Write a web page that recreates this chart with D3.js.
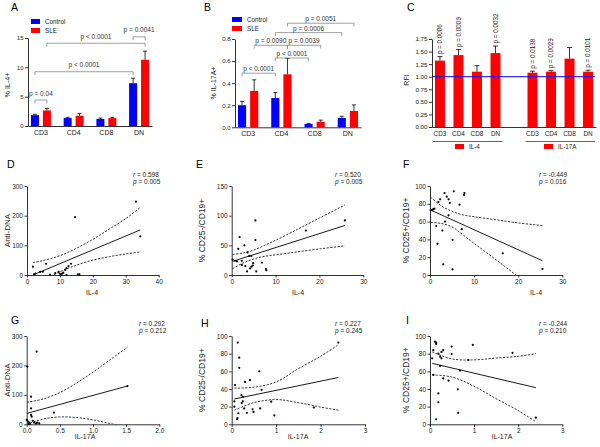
<!DOCTYPE html>
<html>
<head>
<meta charset="utf-8">
<script src="https://cdn.jsdelivr.net/npm/d3@7"></script>
<style>
  body { margin: 0; background: #fff; }
</style>
</head>
<body>
<script>
// DATA
const cells = ["CD3", "CD4", "CD8", "DN"];
const groups = ["Control", "SLE"];

// A: % IL-4+
const aControl = [1.85, 1.35, 1.2, 7.3];
const aControlErr = [0.15, 0.12, 0.15, 0.85];
const aSle = [2.65, 1.75, 1.35, 11.3];
const aSleErr = [0.35, 0.4, 0.12, 1.45];
const aTicks = [0, 5, 10, 15];
// [cell, group] -> [cell, group], bracket level (y units), label
const aBrackets = [
  [[0, 0], [0, 1], 4.43, "p = 0.04"],
  [[0, 0], [3, 0], 9.25, "p < 0.0001"],
  [[0, 1], [3, 1], 14.1, "p < 0.0001"],
  [[3, 0], [3, 1], 15.2, "p = 0.0041"]
];

// B: % IL-17A+
const bControl = [0.2, 0.265, 0.03, 0.085];
const bControlErr = [0.035, 0.05, 0.004, 0.015];
const bSle = [0.33, 0.48, 0.05, 0.148];
const bSleErr = [0.1, 0.145, 0.015, 0.055];
const bTicks = [0, 0.2, 0.4, 0.6, 0.8];
const bBrackets = [
  [[0, 0], [1, 0], 0.49, "p < 0.0001"],
  [[1, 0], [2, 0], 0.628, "p < 0.0001"],
  [[0, 1], [1, 1], 0.743, "p = 0.0090"],
  [[1, 1], [2, 1], 0.743, "p = 0.0039"],
  [[1, 0], [3, 0], 0.858, "p = 0.0006"],
  [[1, 1], [3, 1], 0.943, "p = 0.0051"]
];

// C: RFI
const cIl4 = [1.32, 1.43, 1.1, 1.47];
const cIl4Err = [0.08, 0.11, 0.12, 0.14];
const cIl4P = ["p = 0.0006", "p = 0.0009", null, "p = 0.0032"];
const cIl17 = [1.08, 1.1, 1.36, 1.1];
const cIl17Err = [0.03, 0.02, 0.22, 0.03];
const cIl17P = ["p = 0.0138", "p = 0.0029", null, "p = 0.0101"];
const cTicks = [0, 0.25, 0.5, 0.75, 1, 1.25, 1.5, 1.75];

// D: Anti-DNA vs IL-4
const dPoints = [[1.8, 28], [5.8, 38], [14.6, 195], [33.1, 247], [34.4, 130], [2.2, 3], [2.6, 5],
  [4, 11], [4.8, 11], [8.6, 6], [9.6, 11], [9.9, 5], [10.6, 4], [11.6, 17], [12, 23], [12.6, 30],
  [13.4, 38], [15.4, 2], [15.9, 2], [12, 0], [10.2, 2], [11, 8], [7, 1]];
const dLine = [[1.8, 0], [34.4, 152]];
const dUpper = [[1.8, 42], [5, 49], [10, 65], [15, 90], [20, 120], [25, 155], [30, 190], [34.4, 228]];
const dLower = [[1.8, -45], [5, -19], [10, 11], [15, 33], [20, 50], [25, 62], [30, 71], [34.4, 78]];

// E: % CD25-/CD19+ vs IL-4
const ePoints = [[1.8, 64], [1.5, 44], [2.9, 50], [5.4, 92], [5.4, 59], [3.6, 38], [4, 32], [4.5, 32],
  [0.2, 26], [0.8, 24], [1.2, 23], [2.3, 24], [2.3, 17], [3.1, 15], [3.5, 6], [4.2, 11], [4.5, 14],
  [4.8, 16], [4.9, 20], [5.6, 6], [6.9, 21], [7.8, 10], [7.9, 8], [16.9, 75], [25.8, 92]];
const eLine = [[0.2, 23], [25.8, 83.5]];
const eUpper = [[0.2, 34.5], [2.5, 37], [5, 42], [7.5, 50], [10, 58.5], [15, 77], [20, 96], [25.8, 118]];
const eLower = [[0.2, 10.5], [2.5, 20], [5, 27], [7.5, 31.5], [10, 34], [15, 39], [20, 44], [25.8, 49]];

// F: % CD25+/CD19+ vs IL-4
const fPoints = [[0.15, 73], [0.45, 73], [0.75, 74], [1, 74.5], [1.4, 55], [1.7, 35], [1.9, 82],
  [2.3, 85], [2.8, 50], [3, 12], [3.3, 92], [3.4, 60], [3.8, 88], [4.2, 67], [4.2, 85], [4.5, 81],
  [5.1, 39.5], [5.1, 6.4], [5.4, 94], [6.7, 79], [7.2, 51.5], [7.7, 90], [7.8, 92], [16.5, 24.4],
  [25.5, 6.8]];
const fLine = [[0.15, 73], [25.5, 16]];
const fUpper = [[0.15, 87.5], [2.5, 78], [5, 71.5], [7.5, 67.5], [10, 65.5], [15, 62], [20, 58.5], [25.5, 55.5]];
const fLower = [[0.15, 59], [2.5, 58], [5, 54], [7.5, 45], [10, 35.5], [15, 17], [20, -2], [25.5, -23.5]];

// G: Anti-DNA vs IL-17A
const gPoints = [[0.01, 196], [0.15, 247], [0.065, 94], [0.065, 54], [0.065, 32], [0.075, 26],
  [0, 15], [0.02, 9], [0.04, 6], [0.09, 12], [0.11, 6], [0.14, 3], [0.16, 6], [0.19, 3], [0.41, 40],
  [1.52, 130], [0.03, 1], [0.05, 1]];
const gLine = [[0, 37], [1.52, 130]];
const gUpper = [[0, 75], [0.25, 86], [0.5, 108], [0.75, 140], [1, 177], [1.25, 218], [1.52, 262]];
const gLower = [[0, 0], [0.25, 18], [0.5, 25], [0.75, 23], [1, 15], [1.25, 3], [1.52, -8]];

// H: % CD25-/CD19+ vs IL-17A
const hPoints = [[0.135, 92.5], [0.17, 75.5], [0.17, 64], [0.075, 44.5], [0.3, 48], [0.41, 50],
  [0.62, 60], [0.675, 39], [0.22, 33], [0.25, 31], [0.06, 26], [0.06, 20], [0.225, 24], [0.25, 26],
  [0.28, 18], [0.34, 13], [0.15, 12.5], [0.13, 7], [0.12, 5.7], [0.47, 17], [0.49, 14], [0.64, 18],
  [0.89, 25.6], [0.96, 10], [1.85, 19], [2.4, 92.5]];
const hLine = [[0.06, 28.7], [2.4, 53]];
const hUpper = [[0.06, 41], [0.5, 42], [1, 48], [1.5, 63], [2, 77], [2.4, 90]];
const hLower = [[0.06, 16], [0.5, 24.5], [1, 28], [1.5, 24.5], [2, 19.5], [2.4, 16]];

// I: % CD25+/CD19+ vs IL-17A
const iPoints = [[0.11, 93.6], [0.14, 92.5], [0.14, 91], [0.075, 84], [0.19, 80], [0.23, 76.6],
  [0.26, 74.7], [0.26, 82], [0.3, 84], [0.49, 88], [0.49, 79.6], [0.97, 90], [0.05, 74.7], [0.23, 66],
  [0.075, 56], [0.3, 52], [0.42, 49.4], [0.68, 60.8], [0.87, 72.8], [0.63, 39.6], [0.19, 35],
  [0.19, 25], [0.64, 13], [0.14, 5.7], [1.87, 81], [2.4, 7.5]];
const iLine = [[0.05, 69], [2.4, 41.5]];
const iUpper = [[0.05, 82], [0.5, 74], [1, 73], [1.5, 75], [2, 77], [2.4, 80]];
const iLower = [[0.05, 56], [0.5, 53.5], [1, 43], [1.5, 29], [2, 15.5], [2.4, 3]];

// SETUP
const FONT = '"Liberation Sans", Arial, sans-serif';
const BLUE = "#0000ff";
const RED = "#ff0000";

const svg = d3.select("body").append("svg")
  .attr("width", 600).attr("height", 447)
  .style("font-family", FONT);

const styleAxis = (g, fs) => {
  g.attr("font-family", FONT).attr("font-size", fs);
  g.selectAll("path, line").attr("stroke", "#000").attr("stroke-width", 0.8);
  g.selectAll("text").attr("fill", "#222");
};

const letter = (t, x, y) =>
  svg.append("text").attr("x", x).attr("y", y).attr("font-size", 10.5).text(t);

const yTitle = (t, cx, cy, fs) =>
  svg.append("text")
    .attr("transform", `translate(${cx},${cy}) rotate(-90)`)
    .attr("text-anchor", "middle").attr("font-size", fs).attr("fill", "#222")
    .text(t);

const legendItem = (x, y, color, label, w) => {
  svg.append("rect").attr("x", x).attr("y", y).attr("width", w).attr("height", 5).attr("fill", color);
  svg.append("text").attr("x", x + w + 5).attr("y", y + 4.8).attr("font-size", 6.3)
    .attr("fill", "#222").text(label);
};

// GROUPED BAR PANELS (A, B)
function groupedBars(cfg) {
  const x = d3.scaleBand().domain(cells).range(cfg.xr).paddingInner(0.39).paddingOuter(0.09);
  const xs = d3.scaleBand().domain(groups).range([0, x.bandwidth()]).paddingInner(0.33);
  const y = d3.scaleLinear().domain([0, cfg.ymax]).range(cfg.yr);

  const rows = [];
  cells.forEach((c, i) => {
    rows.push({ c, g: "Control", v: cfg.ctrl[i], e: cfg.ctrlErr[i] });
    rows.push({ c, g: "SLE", v: cfg.sle[i], e: cfg.sleErr[i] });
  });
  const cx = (d) => x(d.c) + xs(d.g) + xs.bandwidth() / 2;

  const g = svg.append("g");
  g.selectAll("line.err").data(rows).enter().append("line")
    .attr("x1", cx).attr("x2", cx)
    .attr("y1", (d) => y(d.v)).attr("y2", (d) => y(d.v + d.e))
    .attr("stroke", "#000").attr("stroke-width", 0.8);
  g.selectAll("line.cap").data(rows).enter().append("line")
    .attr("x1", (d) => cx(d) - 2).attr("x2", (d) => cx(d) + 2)
    .attr("y1", (d) => y(d.v + d.e)).attr("y2", (d) => y(d.v + d.e))
    .attr("stroke", "#000").attr("stroke-width", 0.8);
  g.selectAll("rect").data(rows).enter().append("rect")
    .attr("x", (d) => x(d.c) + xs(d.g))
    .attr("y", (d) => y(d.v))
    .attr("width", xs.bandwidth())
    .attr("height", (d) => y(0) - y(d.v))
    .attr("fill", (d) => (d.g === "Control" ? BLUE : RED));

  const ya = svg.append("g").attr("transform", `translate(${cfg.xr[0]},0)`)
    .call(d3.axisLeft(y).tickValues(cfg.ticks).tickFormat(d3.format(cfg.fmt))
      .tickSize(3).tickSizeOuter(0).tickPadding(1.5));
  styleAxis(ya, 6);
  const xa = svg.append("g").attr("transform", `translate(0,${cfg.yr[0]})`)
    .call(d3.axisBottom(x).tickSize(0).tickSizeOuter(0).tickPadding(4));
  styleAxis(xa, 7);

  // significance brackets
  const bx = (p) => x(cells[p[0]]) + xs(groups[p[1]]) + xs.bandwidth() / 2;
  cfg.brackets.forEach(([a, b, level, label]) => {
    const x1 = bx(a), x2 = bx(b), yy = y(level);
    svg.append("path")
      .attr("d", `M${x1},${yy + 3.3}V${yy}H${x2}V${yy + 3.3}`)
      .attr("fill", "none").attr("stroke", "#888").attr("stroke-width", 0.8);
    svg.append("text").attr("x", (x1 + x2) / 2).attr("y", yy - cfg.textGap)
      .attr("text-anchor", "middle").attr("font-size", 6.5).attr("fill", "#333")
      .text(label);
  });
}

groupedBars({
  xr: [28, 152], yr: [126, 38], ymax: 15, ticks: aTicks, fmt: "d",
  ctrl: aControl, ctrlErr: aControlErr, sle: aSle, sleErr: aSleErr,
  brackets: aBrackets, textGap: 4.5
});
groupedBars({
  xr: [235, 361], yr: [127.3, 39], ymax: 0.8, ticks: bTicks, fmt: ".1f",
  ctrl: bControl, ctrlErr: bControlErr, sle: bSle, sleErr: bSleErr,
  brackets: bBrackets, textGap: 2
});

letter("A", 11, 11);
letter("B", 204, 11);
yTitle("% IL-4+", 10, 85, 7.2);
yTitle("% IL-17A+", 215.5, 83, 7);
legendItem(31, 19, BLUE, "Control", 9);
legendItem(31, 28, RED, "SLE", 9);
legendItem(232, 17, BLUE, "Control", 10);
legendItem(232, 26, RED, "SLE", 10);

// C: RFI BARS
{
  const keys = cells.map((c) => "IL-4 " + c).concat(["gap"], cells.map((c) => "IL-17A " + c));
  const rows = cells.map((c, i) => ({ k: "IL-4 " + c, c, v: cIl4[i], e: cIl4Err[i], p: cIl4P[i] }))
    .concat(cells.map((c, i) => ({ k: "IL-17A " + c, c, v: cIl17[i], e: cIl17Err[i], p: cIl17P[i] })));
  const x = d3.scaleBand().domain(keys).range([432, 596]).paddingInner(0.46).paddingOuter(0.16);
  const y = d3.scaleLinear().domain([0, 1.75]).range([127, 39]);
  const cx = (d) => x(d.k) + x.bandwidth() / 2;

  svg.append("g").selectAll("rect").data(rows).enter().append("rect")
    .attr("x", (d) => x(d.k)).attr("y", (d) => y(d.v))
    .attr("width", x.bandwidth()).attr("height", (d) => y(0) - y(d.v))
    .attr("fill", RED);
  svg.append("g").selectAll("path").data(rows).enter().append("path")
    .attr("d", (d) => `M${cx(d)},${y(d.v)}V${y(d.v + d.e)}M${cx(d) - 2.5},${y(d.v + d.e)}H${cx(d) + 2.5}`)
    .attr("fill", "none").attr("stroke", "#000").attr("stroke-width", 0.8);
  svg.append("g").selectAll("text").data(rows.filter((d) => d.p)).enter().append("text")
    .attr("transform", (d) => `translate(${cx(d) + 2.2},${y(d.v + d.e) - 2.5}) rotate(-90)`)
    .attr("font-size", 6.3).attr("fill", "#222")
    .text((d) => d.p);

  // reference line at RFI = 1
  svg.append("line").attr("x1", 432).attr("x2", 595)
    .attr("y1", y(1)).attr("y2", y(1))
    .attr("stroke", BLUE).attr("stroke-width", 1);

  const ya = svg.append("g").attr("transform", "translate(432,0)")
    .call(d3.axisLeft(y).tickValues(cTicks).tickFormat(d3.format(".2f"))
      .tickSize(3).tickSizeOuter(0).tickPadding(1.5));
  styleAxis(ya, 6.2);
  const xa = svg.append("g").attr("transform", `translate(0,${y(0)})`)
    .call(d3.axisBottom(x).tickSize(0).tickSizeOuter(0).tickPadding(4)
      .tickFormat((k) => (k === "gap" ? "" : k.split(" ")[1])));
  styleAxis(xa, 6.4);

  // grouping underlines and legend
  const grp = [["IL-4 CD3", "IL-4 DN", "IL-4"], ["IL-17A CD3", "IL-17A DN", "IL-17A"]];
  grp.forEach(([k1, k2]) => {
    svg.append("line").attr("x1", x(k1) - 2).attr("x2", x(k2) + x.bandwidth() + 2)
      .attr("y1", 141.5).attr("y2", 141.5).attr("stroke", "#000").attr("stroke-width", 0.6);
  });
  legendItem(455, 144, RED, "IL-4", 9);
  legendItem(544, 144, RED, "IL-17A", 9);

  letter("C", 407, 11);
  yTitle("RFI", 409, 80, 7);
}

// SCATTER PANELS (D - I)
function scatter(cfg) {
  const x = d3.scaleLinear().domain(cfg.xd).range(cfg.xr);
  const y = d3.scaleLinear().domain(cfg.yd).range(cfg.yr);
  const id = "clip" + cfg.letter;

  svg.append("clipPath").attr("id", id).append("rect")
    .attr("x", cfg.xr[0]).attr("y", cfg.yr[1] - 10)
    .attr("width", cfg.xr[1] - cfg.xr[0]).attr("height", cfg.yr[0] - cfg.yr[1] + 10);

  const line = d3.line().x((d) => x(d[0])).y((d) => y(d[1]));
  const band = d3.line().x((d) => x(d[0])).y((d) => y(d[1])).curve(d3.curveCatmullRom);
  const lines = svg.append("g").attr("clip-path", `url(#${id})`);
  lines.append("path").attr("d", line(cfg.line))
    .attr("fill", "none").attr("stroke", "#000").attr("stroke-width", 0.9);
  [cfg.upper, cfg.lower].forEach((b) => {
    lines.append("path").attr("d", band(b))
      .attr("fill", "none").attr("stroke", "#000").attr("stroke-width", 0.8)
      .attr("stroke-dasharray", "2.2,1.4");
  });

  svg.append("g").selectAll("circle").data(cfg.points).enter().append("circle")
    .attr("cx", (d) => x(d[0])).attr("cy", (d) => y(d[1]))
    .attr("r", 1.1).attr("fill", "#000");

  const xa = svg.append("g").attr("transform", `translate(0,${cfg.yr[0]})`)
    .call(d3.axisBottom(x).tickValues(cfg.xticks).tickFormat(d3.format(cfg.xfmt))
      .tickSize(2.5).tickSizeOuter(0).tickPadding(2));
  styleAxis(xa, 6.5);
  const ya = svg.append("g").attr("transform", `translate(${cfg.xr[0]},0)`)
    .call(d3.axisLeft(y).tickValues(cfg.yticks).tickFormat(d3.format("d"))
      .tickSize(2.5).tickSizeOuter(0).tickPadding(1.5));
  styleAxis(ya, 6.5);

  // stats
  const st = svg.append("g").attr("font-size", 6.5).attr("fill", "#222");
  const r = st.append("text").attr("x", cfg.stat[0]).attr("y", cfg.stat[1]);
  r.append("tspan").attr("font-style", "italic").text("r");
  r.append("tspan").text(" = " + cfg.stats[0]);
  const p = st.append("text").attr("x", cfg.stat[0]).attr("y", cfg.stat[1] + 7.5);
  p.append("tspan").attr("font-style", "italic").text("p");
  p.append("tspan").text(" = " + cfg.stats[1]);

  svg.append("text").attr("x", cfg.xlab[0]).attr("y", cfg.xlab[1])
    .attr("text-anchor", "middle").attr("font-size", 7).attr("fill", "#222").text(cfg.xlabel);
  yTitle(cfg.ylabel, cfg.ylab[0], (cfg.yr[0] + cfg.yr[1]) / 2, cfg.ylabSize);
  letter(cfg.letter, cfg.let[0], cfg.let[1]);
}

scatter({
  letter: "D", let: [7, 168], xr: [27, 158.7], yr: [275, 186], xd: [0, 40], yd: [0, 300],
  xticks: [0, 10, 20, 30, 40], xfmt: "d", yticks: [0, 100, 200, 300],
  points: dPoints, line: dLine, upper: dUpper, lower: dLower,
  stats: ["0.598", "0.005"], stat: [133, 176.5],
  xlabel: "IL-4", xlab: [92, 294.5], ylabel: "Anti-DNA", ylab: [9.5], ylabSize: 8
});
scatter({
  letter: "E", let: [196, 168], xr: [231.7, 363.3], yr: [275, 186], xd: [0, 30], yd: [0, 150],
  xticks: [0, 10, 20, 30], xfmt: "d", yticks: [0, 50, 100, 150],
  points: ePoints, line: eLine, upper: eUpper, lower: eLower,
  stats: ["0.520", "0.005"], stat: [335, 176.5],
  xlabel: "IL-4", xlab: [298, 294.5], ylabel: "% CD25-/CD19+", ylab: [205], ylabSize: 8.5
});
scatter({
  letter: "F", let: [403, 168], xr: [430, 562.3], yr: [275, 186], xd: [0, 30], yd: [0, 100],
  xticks: [0, 10, 20, 30], xfmt: "d", yticks: [0, 20, 40, 60, 80, 100],
  points: fPoints, line: fLine, upper: fUpper, lower: fLower,
  stats: ["-0.449", "0.016"], stat: [539, 176.5],
  xlabel: "IL-4", xlab: [536, 294.5], ylabel: "% CD25+/CD19+", ylab: [409], ylabSize: 8.5
});
scatter({
  letter: "G", let: [11, 324], xr: [26.7, 159.3], yr: [424.3, 336], xd: [0, 2], yd: [0, 300],
  xticks: [0, 0.5, 1, 1.5, 2], xfmt: ".1f", yticks: [0, 100, 200, 300],
  points: gPoints, line: gLine, upper: gUpper, lower: gLower,
  stats: ["0.292", "0.212"], stat: [139, 325.5],
  xlabel: "IL-17A", xlab: [85, 439], ylabel: "Anti-DNA", ylab: [9.5], ylabSize: 8
});
scatter({
  letter: "H", let: [201, 327], xr: [231.7, 365], yr: [424.3, 336], xd: [0, 3], yd: [0, 100],
  xticks: [0, 1, 2, 3], xfmt: "d", yticks: [0, 20, 40, 60, 80, 100],
  points: hPoints, line: hLine, upper: hUpper, lower: hLower,
  stats: ["0.227", "0.245"], stat: [335, 325.5],
  xlabel: "IL-17A", xlab: [298, 439], ylabel: "% CD25-/CD19+", ylab: [205], ylabSize: 8.5
});
scatter({
  letter: "I", let: [406, 324], xr: [430, 562.3], yr: [424.3, 336], xd: [0, 3], yd: [0, 100],
  xticks: [0, 1, 2, 3], xfmt: "d", yticks: [0, 20, 40, 60, 80, 100],
  points: iPoints, line: iLine, upper: iUpper, lower: iLower,
  stats: ["-0.244", "0.210"], stat: [539, 325.5],
  xlabel: "IL-17A", xlab: [502, 439], ylabel: "% CD25+/CD19+", ylab: [409], ylabSize: 8.5
});
</script>
</body>
</html>
